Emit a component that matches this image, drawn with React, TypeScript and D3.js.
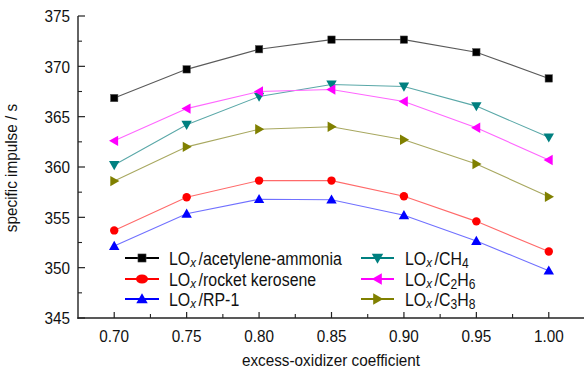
import React from "react";
import * as d3 from "d3";

const xValues = [0.7, 0.75, 0.8, 0.85, 0.9, 0.95, 1.0];
const acetyleneAmmonia = [366.85, 369.7, 371.7, 372.65, 372.65, 371.4, 368.8];
const rocketKerosene = [353.7, 357.0, 358.65, 358.65, 357.1, 354.6, 351.6];
const rp1 = [352.15, 355.35, 356.8, 356.75, 355.2, 352.65, 349.7];
const ch4 = [360.2, 364.2, 367.0, 368.2, 368.0, 366.05, 362.95];
const c2h6 = [362.6, 365.8, 367.5, 367.7, 366.5, 363.9, 360.7];
const c3h8 = [358.6, 362.0, 363.75, 364.0, 362.7, 360.3, 357.05];
const xTickLabels = ["0.70", "0.75", "0.80", "0.85", "0.90", "0.95", "1.00"];
const yTicks = [345, 350, 355, 360, 365, 370, 375];

type Sub = { main: string; sub?: string };
type Series = {
  values: number[];
  color: string;
  line: string;
  marker: "square" | "circle" | "up" | "down" | "left" | "right";
  label: Sub[];
};

const series: Series[] = [
  { values: acetyleneAmmonia, color: "#000000", line: "#5a5a5a", marker: "square", label: [{ main: "/acetylene-ammonia" }] },
  { values: rocketKerosene, color: "#ff0000", line: "#ff6a6a", marker: "circle", label: [{ main: "/rocket kerosene" }] },
  { values: rp1, color: "#0000ff", line: "#7070ff", marker: "up", label: [{ main: "/RP-1" }] },
  { values: ch4, color: "#008080", line: "#5aa8a8", marker: "down", label: [{ main: "/CH", sub: "4" }] },
  { values: c2h6, color: "#ff00ff", line: "#ff66ff", marker: "left", label: [{ main: "/C", sub: "2" }, { main: "H", sub: "6" }] },
  { values: c3h8, color: "#808000", line: "#a8a860", marker: "right", label: [{ main: "/C", sub: "3" }, { main: "H", sub: "8" }] },
];

const W = 584;
const H = 371;
const FONT = "'Liberation Sans', Arial, sans-serif";
const SX = 0.9;
const LSX = 0.86;

function Marker({ type, x, y, color, s = 1 }: { type: string; x: number; y: number; color: string; s?: number }) {
  if (type === "square") {
    const a = 7.4 * s;
    return <rect x={x - a / 2} y={y - a / 2} width={a} height={a} fill={color} stroke="#555" strokeWidth={0.5} />;
  }
  if (type === "circle") {
    return <ellipse cx={x} cy={y} rx={4.2 * s * (s > 1 ? 1.3 : 1)} ry={4.2 * s} fill={color} />;
  }
  const r = 5.2 * s;
  let pts: [number, number][] = [];
  if (type === "up") pts = [[x, y - r], [x + r, y + r * 0.75], [x - r, y + r * 0.75]];
  if (type === "down") pts = [[x, y + r], [x + r, y - r * 0.75], [x - r, y - r * 0.75]];
  if (type === "left") pts = [[x - r, y], [x + r * 0.75, y - r], [x + r * 0.75, y + r]];
  if (type === "right") pts = [[x + r, y], [x - r * 0.75, y - r], [x - r * 0.75, y + r]];
  return <polygon points={pts.map((p) => p.join(",")).join(" ")} fill={color} />;
}

function LegendLabel({ x, y, parts }: { x: number; y: number; parts: Sub[] }) {
  return (
    <text transform={`translate(${x},${y}) scale(${LSX},1)`} fontFamily={FONT} fontSize={18.5} fill="#111">
      <tspan>LO</tspan>
      <tspan fontStyle="italic" fontSize={13.5} dy={2.5}>x</tspan>
      <tspan dy={-2.5} dx={3}>{parts[0].main}</tspan>
      {parts.map((p, i) => (
        <React.Fragment key={i}>
          {i > 0 && <tspan dy={-3}>{p.main}</tspan>}
          {p.sub && <tspan fontSize={14} dy={3}>{p.sub}</tspan>}
        </React.Fragment>
      ))}
    </text>
  );
}

export default function App() {
  const x = d3.scaleLinear().domain([0.675, 1.025]).range([78, 585]);
  const y = d3.scaleLinear().domain([345, 375]).range([318, 16]);
  const line = d3
    .line<number>()
    .x((_, i) => x(xValues[i]))
    .y((d) => y(d));

  const yMinor = d3.range(347.5, 375, 5);
  const xMinor = d3.range(0.725, 1.03, 0.05);

  const legendRows = [258, 279, 299];

  return (
    <svg width={W} height={H} style={{ position: "absolute", left: 0, top: 0, background: "#fff" }}>
      <rect width={W} height={H} fill="#fff" />
      {/* axes */}
      <line x1={78} x2={78} y1={16} y2={318.7} stroke="#222" strokeWidth={1.4} />
      <line x1={77.3} x2={585} y1={318} y2={318} stroke="#222" strokeWidth={1.4} />
      {yTicks.map((t) => (
        <g key={t}>
          <line x1={78} x2={85} y1={y(t)} y2={y(t)} stroke="#222" strokeWidth={1.2} />
          <text
            transform={`translate(70,${y(t) + 6.2}) scale(${SX},1)`}
            textAnchor="end"
            fontFamily={FONT}
            fontSize={17}
            fill="#111"
          >
            {t}
          </text>
        </g>
      ))}
      {yMinor.map((t) => (
        <line key={t} x1={78} x2={82} y1={y(t)} y2={y(t)} stroke="#222" strokeWidth={1.1} />
      ))}
      {xValues.map((v, i) => (
        <g key={v}>
          <line x1={x(v)} x2={x(v)} y1={318} y2={312} stroke="#222" strokeWidth={1.2} />
          <text
            transform={`translate(${x(v)},341.8) scale(${SX},1)`}
            textAnchor="middle"
            fontFamily={FONT}
            fontSize={17}
            fill="#111"
          >
            {xTickLabels[i]}
          </text>
        </g>
      ))}
      {xMinor.map((v) => (
        <line key={v} x1={x(v)} x2={x(v)} y1={318} y2={314} stroke="#222" strokeWidth={1.1} />
      ))}
      {/* axis titles */}
      <text
        transform={`translate(331,366) scale(${SX},1)`}
        textAnchor="middle"
        fontFamily={FONT}
        fontSize={17}
        fill="#111"
      >
        excess-oxidizer coefficient
      </text>
      <text
        transform={`translate(17,168) rotate(-90) scale(${SX},1)`}
        textAnchor="middle"
        fontFamily={FONT}
        fontSize={17}
        fill="#111"
      >
        specific impulse / s
      </text>
      {/* series */}
      {series.map((s, k) => (
        <g key={k}>
          <path d={line(s.values) || ""} fill="none" stroke={s.line} strokeWidth={1.1} />
          {s.values.map((v, i) => (
            <Marker key={i} type={s.marker} x={x(xValues[i])} y={y(v)} color={s.color} />
          ))}
        </g>
      ))}
      {/* legend */}
      {series.map((s, k) => {
        const col = k < 3 ? 0 : 1;
        const row = k % 3;
        const lx1 = col === 0 ? 125 : 361;
        const lx2 = col === 0 ? 159 : 394;
        const tx = col === 0 ? 169 : 405;
        const ly = legendRows[row];
        return (
          <g key={"lg" + k}>
            <line x1={lx1} x2={lx2} y1={ly} y2={ly} stroke={s.color} strokeWidth={1.8} />
            <Marker type={s.marker} x={(lx1 + lx2) / 2} y={ly} color={s.color} s={1.1} />
            <LegendLabel x={tx} y={ly + 6.5} parts={s.label} />
          </g>
        );
      })}
    </svg>
  );
}
